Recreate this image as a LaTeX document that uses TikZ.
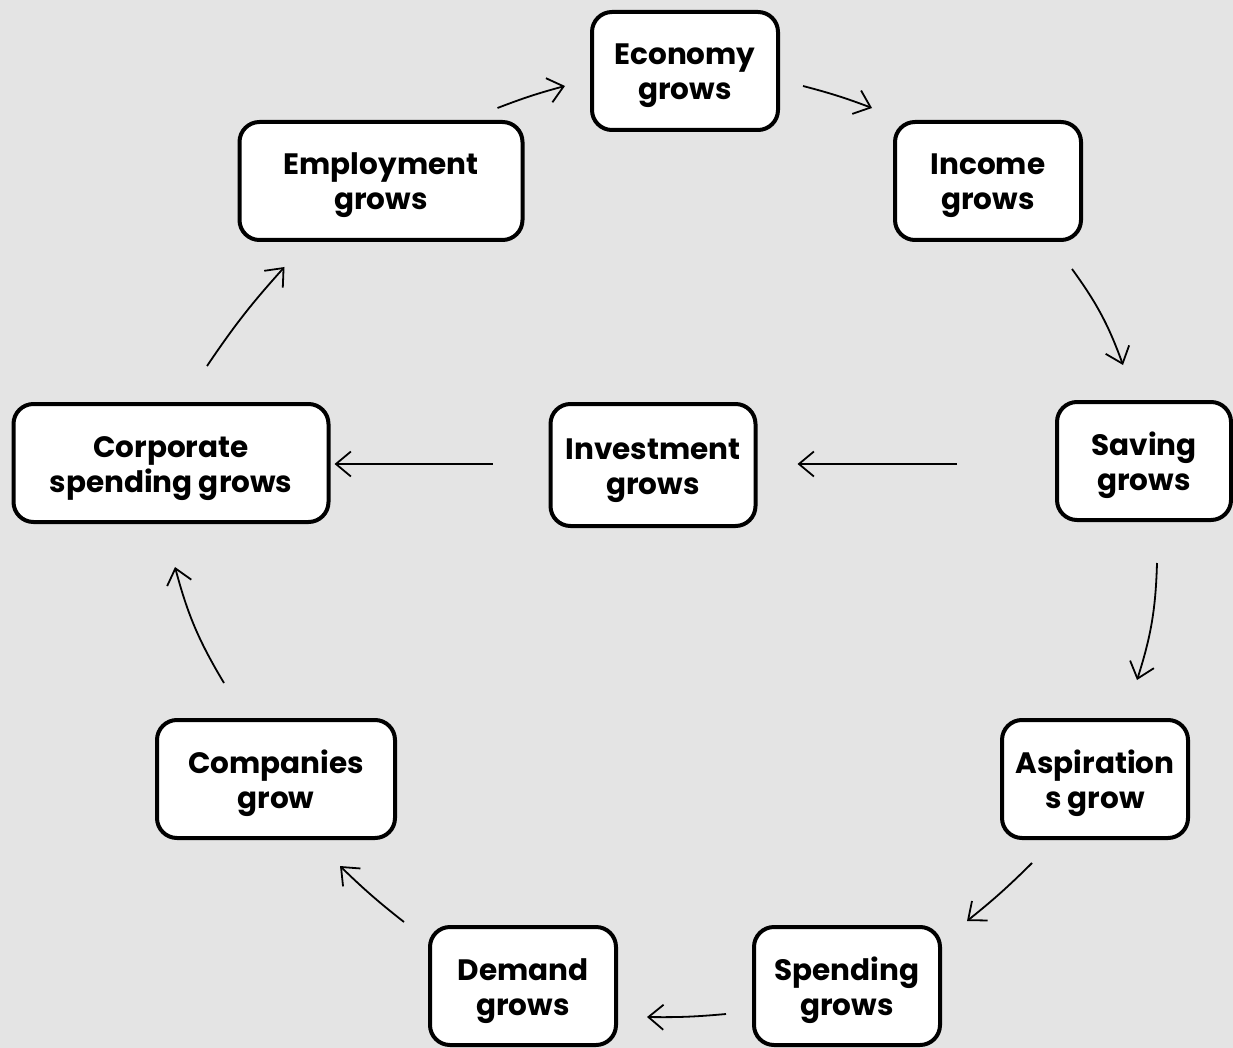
\documentclass[tikz,border=0pt]{standalone}
\usepackage{fontspec}
\setmainfont{Poppins}
\usetikzlibrary{arrows.meta}
\definecolor{bgcol}{RGB}{228,228,228}
\begin{document}
\begin{tikzpicture}[x=1pt,y=-1pt,
  stage/.style={draw=black, line width=4pt, rounded corners=20pt, fill=white,
    inner sep=0pt, align=center, minimum height=118pt,
    text height=64pt, text depth=6pt,
    font=\fontsize{29.5}{35}\selectfont\bfseries},
  arr/.style={line width=1.8pt, -{Straight Barb[length=15pt,width=25pt,line width=1.8pt]}}
]
\clip (0,0) rectangle (1233,1048);
\fill[bgcol] (0,0) rectangle (1233,1048);

% the stages of the growth cycle
\node[stage, minimum width=186pt] (econ)   at (685,71)  {Economy\\grows};
\node[stage, minimum width=186pt] (inc)    at (988,181) {Income\\grows};
\node[stage, minimum width=174pt] (sav)    at (1144,461) {Saving\\grows};
\node[stage, minimum width=186pt] (asp)    at (1095,779) {Aspiration\\s grow};
\node[stage, minimum width=186pt] (spend)  at (847,986) {Spending\\grows};
\node[stage, minimum width=186pt] (dem)    at (523,986) {Demand\\grows};
\node[stage, minimum width=238pt] (comp)   at (276,779) {Companies\\grow};
\node[stage, minimum width=315pt] (corp)   at (171,463) {Corporate\\spending grows};
\node[stage, minimum width=283pt] (empl)   at (381,181) {Employment\\grows};
\node[stage, minimum width=205pt, minimum height=122pt] (inv) at (653,465) {Investment\\grows};

% connectors
\draw[arr] ([shift={(-27,-12)}]empl.north east) to[bend left=3] ([shift={(-25,15)}]econ.west);
\draw[arr] ([shift={(23,15)}]econ.east) to[bend left=3] ([shift={(-21,-12)}]inc.north west);
\draw[arr] ([shift={(-11,27)}]inc.south east) to[bend left=8] ([shift={(-21,-35)}]sav.north);
\draw[arr] ([shift={(13,41)}]sav.south) to[bend left=8] ([shift={(42,-38)}]asp.north);
\draw[arr] ([shift={(-63,23)}]asp.south) to[bend left=3] ([shift={(25,-4)}]spend.north east);
\draw[arr] ([shift={(-26,28)}]spend.west) to[bend left=3] ([shift={(29,31)}]dem.east);
\draw[arr] ([shift={(-24,-3)}]dem.north west) to[bend left=3] ([shift={(-57,26)}]comp.south east);
\draw[arr] ([shift={(-52,-35)}]comp.north) to[bend left=8] ([shift={(4,43)}]corp.south);
\draw[arr] ([shift={(36,-36)}]corp.north) to[bend left=4] ([shift={(47,25)}]empl.south west);
\draw[arr] ([shift={(-56,-1)}]inv.west) -- ([shift={(4,1)}]corp.east);
\draw[arr] ([shift={(-98,3)}]sav.west) -- ([shift={(40,-1)}]inv.east);
\end{tikzpicture}
\end{document}
